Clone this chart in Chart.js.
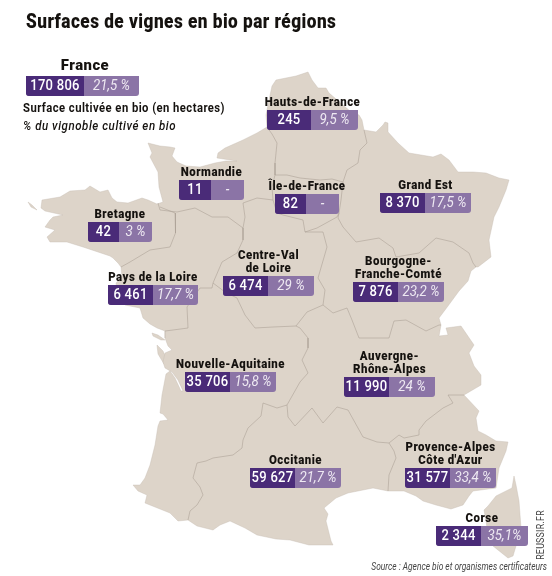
<!DOCTYPE html>
<html lang="fr"><head><meta charset="utf-8"><title>Surfaces de vignes en bio par régions</title>
<style>html,body{margin:0;padding:0;background:#fff}canvas{display:block}</style>
<script src="https://cdn.jsdelivr.net/npm/chart.js@4/dist/chart.umd.min.js"></script></head>
<body><canvas id="c" width="552" height="576" style="width:552px;height:576px"></canvas>
<script>
// ---- values
const regionLines=[["Hauts-de-France"],["Normandie"],["Île-de-France"],["Grand Est"],["Bretagne"],["Pays de la Loire"],["Centre-Val","de Loire"],["Bourgogne-","Franche-Comté"],["Nouvelle-Aquitaine"],["Auvergne-","Rhône-Alpes"],["Occitanie"],["Provence-Alpes","Côte d'Azur"],["Corse"]];
const hectares=["245","11","82","8 370","42","6 461","6 474","7 876","35 706","11 990","59 627","31 577","2 344"];
const percents=["9,5 %","-","-","17,5 %","3 %","17,7 %","29 %","23,2 %","15,8 %","24 %","21,7 %","33,4 %","35,1%"];
const franceName="France", franceHectares="170 806", francePercent="21,5 %";
// ---- map geometry in map units
const mainland=[[308,72],[296,76],[276,80],[272,86],[269,100],[266,115],[267,127],[257,133],[243,140],[225,148],[218,153],[217,158],[237,161],[226,161],[215,163],[200,167],[186,166],[177,162],[172,156],[175,148],[170,147],[160,146],[148,143],[152,153],[150,157],[158,172],[159,187],[163,202],[157,204],[148,200],[142,198],[128,203],[117,202],[112,198],[108,190],[100,192],[90,186],[85,190],[70,191],[60,197],[42,200],[41,208],[45,211],[63,215],[53,217],[50,220],[45,227],[55,230],[47,237],[50,242],[67,242],[83,247],[92,250],[110,256],[113,258],[118,263],[121,267],[122,277],[116,283],[118,296],[125,305],[140,308],[143,318],[150,324],[157,328],[165,331],[165,338],[168,346],[172,350],[165,353],[163,362],[165,368],[172,372],[178,380],[183,391],[181,391],[175,378],[170,371],[166,374],[162,395],[160,413],[163,414],[168,420],[160,421],[158,426],[155,445],[150,465],[145,478],[140,485],[133,485],[138,491],[147,495],[145,503],[150,505],[170,513],[178,521],[188,520],[197,526],[213,530],[220,525],[230,521],[245,528],[257,535],[276,539],[290,540],[309,545],[333,545],[331,541],[326,521],[328,514],[324,508],[336,498],[348,493],[373,488],[388,491],[404,491],[416,496],[423,501],[436,505],[451,509],[463,505],[469,496],[473,491],[496,488],[499,468],[506,451],[508,442],[496,441],[486,435],[478,431],[476,418],[479,411],[464,395],[481,385],[481,375],[474,366],[469,353],[474,345],[461,326],[446,328],[448,335],[439,336],[441,325],[439,318],[448,306],[459,291],[468,281],[471,271],[476,267],[478,267],[491,257],[489,240],[494,217],[499,207],[506,190],[509,180],[499,178],[486,173],[473,172],[458,172],[449,160],[441,154],[433,157],[409,153],[398,143],[388,132],[388,123],[385,122],[383,125],[376,132],[364,130],[362,120],[359,115],[350,111],[329,93],[326,88],[318,88],[312,80],[308,72]];
const corsica=[[514,476],[512,488],[496,496],[488,506],[484,510],[486,521],[488,535],[493,546],[508,558],[513,556],[516,546],[521,528],[519,501],[516,485],[514,476]];
const islandRe=[[152,333],[158,335],[165,340],[161,340],[153,336],[152,333]];
const islandOleron=[[157,345],[163,351],[168,362],[164,364],[158,354],[157,345]];
const islandOuessant=[[28,202],[32,205],[37,210],[31,207],[28,202]];
const borderHdfWest=[[267,127],[272,134],[277,143],[276,153],[275,163],[275,175]];
const borderHdfEast=[[364,130],[367,143],[360,150],[358,163],[347,170],[343,182]];
const borderIdfTop=[[275,175],[287,175],[300,178],[320,180],[332,179],[343,182]];
const borderIdfEast=[[343,182],[341,200],[339,213],[337,217],[317,228],[305,232],[303,220],[283,215],[277,213],[273,200],[272,187],[275,175]];
const borderNormandy=[[273,200],[257,198],[243,203],[245,217],[243,228],[228,217],[212,217],[195,208],[177,212],[160,210],[158,203]];
const borderBretagne=[[160,207],[175,213],[176,225],[175,233],[170,247],[150,250],[130,262],[121,267]];
const borderCentreWest=[[243,228],[243,240],[237,253],[222,262],[213,283],[212,288],[200,288],[187,307],[188,328],[173,330],[165,331]];
const borderCentreSouth=[[213,283],[225,292],[237,298],[245,315],[255,328],[273,327],[296,326]];
const borderCentreEast=[[305,232],[323,232],[327,247],[318,278],[325,290],[323,305],[307,312],[296,326]];
const borderBfcSouth=[[323,305],[333,313],[347,308],[352,320],[359,338],[373,338],[389,338],[394,321],[406,320],[426,331],[439,325],[441,325]];
const borderBfcNorth=[[339,213],[338,218],[343,227],[356,242],[379,238],[393,248],[396,257],[419,253],[436,238],[453,242],[469,253],[473,263],[476,267]];
const borderAquitaineArA=[[296,326],[300,328],[308,338],[308,348],[302,360],[308,373],[300,382],[287,405]];
const borderAquitaineOcc=[[287,405],[277,408],[263,403],[261,416],[248,428],[243,440],[242,448],[233,455],[213,458],[206,461],[197,463],[193,478],[200,487],[203,495],[197,505],[190,511],[188,520]];
const borderOccArA=[[287,405],[288,417],[295,426],[312,408],[323,423],[337,407],[348,410],[363,437],[377,442],[389,443]];
const borderPaca=[[389,443],[399,435],[404,438],[419,435],[419,430],[426,421],[443,408],[453,403],[448,395],[464,395]];
const borderOccPaca=[[389,443],[394,451],[396,458],[389,475],[388,491]];
// ---- layout of the cards and text (map units)
const cardRects=[[267,311,358,110],[179,211,244,180],[275,306,339,194],[380,425,471,193],[88,119,152,222],[108,153,198,285],[223,268,314,276],[353,398,444,282],[185,230,276,372],[344,389,435,377],[250,295,341,468],[405,450,496,468],[436,481,528,526]];
const franceRect=[26,84,139,76];
const LAND='#ddd4c9', EDGE='#a89e92', DARK='#4a2b78', LIGHT='#8b74a6', INK='#15120f';
const FONT='Roboto, "Liberation Sans", sans-serif';
const toPts=a=>a.map(p=>({x:p[0],y:p[1]}));
const shape=a=>({data:toPts(a),showLine:true,fill:'shape',backgroundColor:LAND,borderColor:'#c5bcb0',borderWidth:.4,pointRadius:0,tension:0,order:2});
const seam=a=>({data:toPts(a),showLine:true,fill:false,borderColor:EDGE,borderWidth:.55,pointRadius:0,tension:0,order:1});
const cardsPlugin={id:'cards',afterDatasetsDraw(chart){
  const c=chart.ctx,X=v=>chart.scales.x.getPixelForValue(v),Y=v=>chart.scales.y.getPixelForValue(v);
  const txt=(s,x,y,font,col,al,sp,sx)=>{c.save();c.translate(x,y);c.scale(sx||1,1);c.font=font;c.fillStyle=col;c.textAlign=al||'center';c.textBaseline='middle';c.letterSpacing=sp||'0px';c.fillText(s,0,0);c.restore();};
  const card=(r,h,p)=>{const[x0,xm,x1,y0]=r,H=Y(y0+20)-Y(y0),l=X(x0),m=X(xm),e=X(x1),t=Y(y0);
    c.fillStyle=LIGHT;c.beginPath();c.roundRect(l,t,e-l,H,[0,0,3,3]);c.fill();
    c.fillStyle=DARK;c.beginPath();c.roundRect(l,t,m-l,H,[0,0,0,3]);c.fill();
    txt(h,(l+m)/2,t+H/2+.5,'500 14px '+FONT,'#fff','center','0.3px',.93);
    txt(p,(m+e)/2,t+H/2+.5,'italic 14.5px '+FONT,'#eee9f2','center','0px',.92);};
  regionLines.forEach((lines,i)=>{const r=cardRects[i];card(r,hectares[i],percents[i]);
    const cx=(r[0]+r[2])/2;lines.forEach((s,j)=>txt(s,X(cx),Y(r[3]-7-13*(lines.length-1-j)),'900 13px '+FONT,INK,'center','0.55px',.88));});
  card(franceRect,franceHectares,francePercent);
  txt(franceName,X(85),Y(66),'900 15.5px '+FONT,INK,'center','0.5px',.96);
  txt('Surface cultivée en bio (en hectares)',X(23),Y(109),'700 12.5px '+FONT,INK,'left','0.5px',.9);
  txt('% du vignoble cultivé en bio',X(23),Y(127),'italic 500 12.5px '+FONT,INK,'left','0.6px',.92);
  txt('Surfaces de vignes en bio par régions',X(26),Y(23),'900 20px '+FONT,INK,'left','0.55px',.86);
  txt('Source : Agence bio et organismes certificateurs',X(547),Y(567),'italic 10px '+FONT,'#444','right','0px',.84);
  c.save();c.translate(X(541),Y(535));c.rotate(-Math.PI/2);txt('REUSSIR.FR',0,0,'10px '+FONT,'#444','center','0.3px',.88);c.restore();
}};
new Chart(document.getElementById('c'),{type:'scatter',
  data:{datasets:[shape(mainland),shape(corsica),shape(islandRe),shape(islandOleron),shape(islandOuessant),
    ...[borderHdfWest,borderHdfEast,borderIdfTop,borderIdfEast,borderNormandy,borderBretagne,borderCentreWest,borderCentreSouth,borderCentreEast,borderBfcSouth,borderBfcNorth,borderAquitaineArA,borderAquitaineOcc,borderOccArA,borderPaca,borderOccPaca].map(seam)]},
  options:{responsive:false,animation:false,layout:{padding:0},
    plugins:{legend:{display:false},tooltip:{enabled:false},title:{display:false}},
    scales:{x:{type:'linear',min:0,max:552,display:false},y:{type:'linear',min:0,max:576,reverse:true,display:false}}},
  plugins:[cardsPlugin]});
</script></body></html>
